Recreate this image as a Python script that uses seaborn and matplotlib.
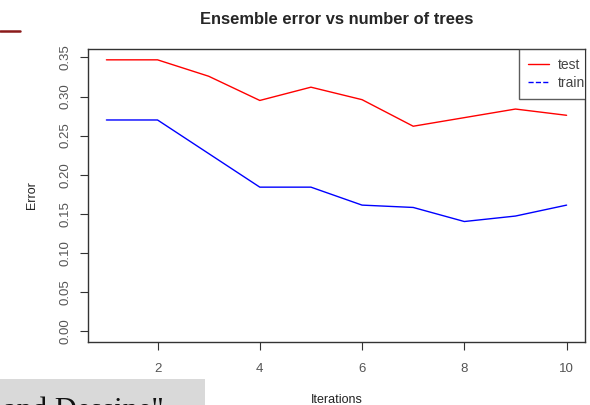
import matplotlib
matplotlib.use("Agg")
import matplotlib.pyplot as plt
from matplotlib.lines import Line2D
import seaborn as sns
import numpy as np
import pandas as pd

iterations = [1, 2, 3, 4, 5, 6, 7, 8, 9, 10]
test_error = [0.347, 0.347, 0.326, 0.295, 0.312, 0.296, 0.262, 0.273, 0.284, 0.276]
train_error = [0.270, 0.270, 0.227, 0.184, 0.184, 0.161, 0.158, 0.140, 0.147, 0.161]
series_names = ["test", "train"]
y_ticks = [0.00, 0.05, 0.10, 0.15, 0.20, 0.25, 0.30, 0.35]
x_ticks = [2, 4, 6, 8, 10]

df = pd.DataFrame({
    "Iterations": iterations * 2,
    "Error": test_error + train_error,
    "set": ["test"] * len(iterations) + ["train"] * len(iterations),
})

sns.set_style("white")
plt.rcParams["font.family"] = ["Liberation Sans", "DejaVu Sans"]

fig = plt.figure(figsize=(5.9, 4.05), dpi=100)
ax = fig.add_axes([88 / 590, 1 - 341.7 / 405, 497 / 590, 292.7 / 405])

palette = {"test": "#ff0000", "train": "#0000ff"}
sns.lineplot(data=df, x="Iterations", y="Error", hue="set", palette=palette,
             linewidth=1.0, legend=False, ax=ax)

# R style 4% axis expansion
xr = max(iterations) - min(iterations)
ax.set_xlim(min(iterations) - 0.04 * xr, max(iterations) + 0.04 * xr)
yr = max(test_error) - 0
ax.set_ylim(0 - 0.04 * yr, max(test_error) + 0.04 * yr)

ax.set_xticks(x_ticks)
ax.set_yticks(y_ticks)
ax.set_yticklabels([f"{v:.2f}" for v in y_ticks], rotation=90, va="center")
ax.tick_params(axis="both", direction="out", length=6, width=0.8, color="#333333",
               labelsize=9.5, labelcolor="#555555", left=True, bottom=True)
ax.tick_params(axis="y", pad=6)
ax.tick_params(axis="x", pad=9)
for s in ax.spines.values():
    s.set_visible(True)
    s.set_color("#333333")
    s.set_linewidth(1.0)

ax.set_xlabel("Iterations", fontsize=9, color="#222222")
ax.set_ylabel("Error", fontsize=9, color="#222222")
ax.xaxis.set_label_coords(0.5, -0.178)
ax.yaxis.set_label_coords(-0.1, 0.5)
ax.set_title("Ensemble error vs number of trees", fontsize=11.9, fontweight="bold", pad=18)

handles = [Line2D([], [], color="#ff0000", lw=1.0, ls="-"),
           Line2D([], [], color="#0000ff", lw=1.0, ls="--")]
leg = ax.legend(handles, series_names, loc="upper left", bbox_to_anchor=(0.867, 1.0),
                frameon=True, fancybox=False, borderaxespad=0, fontsize=10,
                handlelength=1.5, handletextpad=0.65, labelspacing=0.3, borderpad=0.65)
leg.get_frame().set_edgecolor("#333333")
leg.get_frame().set_linewidth(1.0)
for t in leg.get_texts():
    t.set_color("#444444")
for a in leg.findobj():
    if a is not leg:
        a.set_clip_path(ax.patch)

# stray bits of the screenshot
fig.add_artist(Line2D([0, 20 / 590], [1 - 31 / 405] * 2, color="#8b1a1a", lw=1.8))
fig.patches.append(plt.Rectangle((0, 0), 205 / 590, 26 / 405, transform=fig.transFigure,
                                 facecolor="#d9d9d9", edgecolor="none"))
fig.text(3 / 590, -14 / 405, 'and Dessine"', family=["Liberation Serif", "DejaVu Serif"],
         fontsize=22, color="#111111", va="baseline", ha="left")

fig.savefig("out.png", dpi=100)
